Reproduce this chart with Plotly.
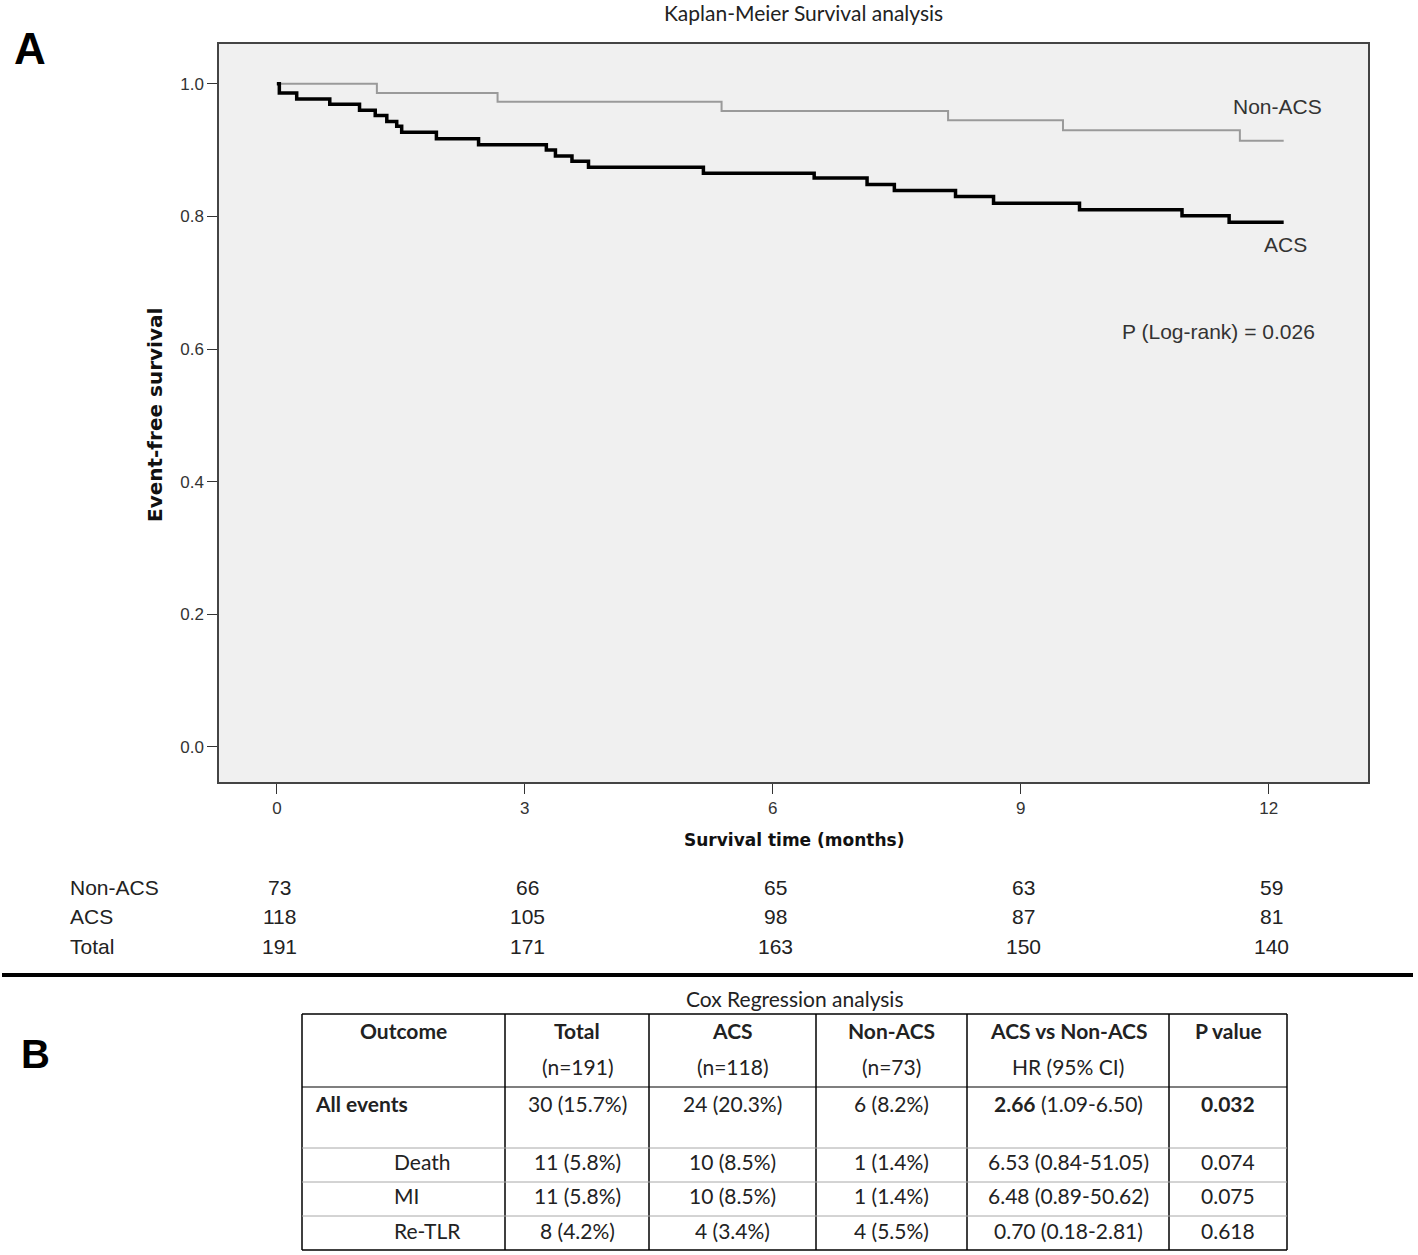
import plotly.graph_objects as go

W, H = 1418, 1255

# ---------------- Data ----------------
acs_time = [0, 0.03, 0.24, 0.64, 1.00, 1.19, 1.33, 1.45, 1.51, 1.93, 2.44, 3.26, 3.37, 3.57, 3.77,
            5.16, 6.50, 7.14, 7.47, 8.21, 8.67, 9.71, 10.95, 11.52, 12.18]
acs_surv = [1.0, 0.986, 0.977, 0.969, 0.960, 0.952, 0.943, 0.936, 0.927, 0.917, 0.908, 0.900, 0.891,
            0.883, 0.874, 0.865, 0.858, 0.848, 0.839, 0.830, 0.820, 0.810, 0.801, 0.791, 0.791]
nonacs_time = [0, 1.21, 2.67, 5.38, 8.12, 9.51, 11.65, 12.18]
nonacs_surv = [1.0, 0.986, 0.973, 0.959, 0.945, 0.930, 0.914, 0.914]

x_ticks = [0, 3, 6, 9, 12]
y_ticks = [0.0, 0.2, 0.4, 0.6, 0.8, 1.0]

risk_labels = ["Non-ACS", "ACS", "Total"]
risk_nonacs = [73, 66, 65, 63, 59]
risk_acs = [118, 105, 98, 87, 81]
risk_total = [191, 171, 163, 150, 140]

tbl_header1 = ["Outcome", "Total", "ACS", "Non-ACS", "ACS vs Non-ACS", "P value"]
tbl_header2 = ["", "(n=191)", "(n=118)", "(n=73)", "HR (95% CI)", ""]
tbl_outcomes = ["All events", "Death", "MI", "Re-TLR"]
tbl_total = ["30 (15.7%)", "11 (5.8%)", "11 (5.8%)", "8 (4.2%)"]
tbl_acs = ["24 (20.3%)", "10 (8.5%)", "10 (8.5%)", "4 (3.4%)"]
tbl_nonacs = ["6 (8.2%)", "1 (1.4%)", "1 (1.4%)", "4 (5.5%)"]
tbl_hr = ["2.66", "6.53", "6.48", "0.70"]
tbl_ci = ["(1.09-6.50)", "(0.84-51.05)", "(0.89-50.62)", "(0.18-2.81)"]
tbl_p = ["0.032", "0.074", "0.075", "0.618"]


def px(x):
    return x / W


def py(y):
    return 1 - y / H


ARIAL = "Liberation Sans, Arial, sans-serif"
VERD = "DejaVu Sans, Verdana, sans-serif"
CALI = "Lato, Open Sans, sans-serif"

fig = go.Figure()
fig.add_trace(go.Scatter(x=nonacs_time, y=nonacs_surv, mode="lines", line_shape="hv",
                         line=dict(color="#9a9a9a", width=2), showlegend=False, hoverinfo="skip"))
fig.add_trace(go.Scatter(x=acs_time, y=acs_surv, mode="lines", line_shape="hv",
                         line=dict(color="#000000", width=3.5), showlegend=False, hoverinfo="skip"))

ann = []
shapes = []


def add_text(x, y, text, font, xref="paper", yref="paper", xanchor="center", **kw):
    ann.append(dict(x=x, y=y, xref=xref, yref=yref, text=text, showarrow=False,
                    xanchor=xanchor, yanchor="middle", font=font, **kw))


# Title
add_text(px(803), py(12), "Kaplan-Meier Survival analysis", dict(family=CALI, size=21, color="#222"))
# Panel letters
add_text(px(30), py(48), "<b>A</b>", dict(family=ARIAL, size=44, color="#000"))
add_text(px(35), py(1054), "<b>B</b>", dict(family=ARIAL, size=40, color="#000"))
# Axis titles
add_text(px(155), py(415), "<b>Event-free survival</b>", dict(family=VERD, size=20, color="#111"),
         textangle=-90)
add_text(px(794), py(840), "<b>Survival time (months)</b>", dict(family=VERD, size=17, color="#111"))
# Curve labels
CF = dict(family=ARIAL, size=21, color="#333")
add_text(12.1, 0.965, "Non-ACS", CF, xref="x", yref="y")
add_text(12.2, 0.758, "ACS", CF, xref="x", yref="y")
add_text(11.39, 0.627, "P (Log-rank) = 0.026", CF, xref="x", yref="y")

# Risk table
risk_rows = [risk_nonacs, risk_acs, risk_total]
risk_y = [887, 917, 946]
RF = dict(family=ARIAL, size=21, color="#222")
for lab, row, yy in zip(risk_labels, risk_rows, risk_y):
    add_text(px(68), py(yy), lab, RF, xanchor="left")
    for t, v in zip(x_ticks, row):
        add_text(t, py(yy), str(v), RF, xref="x", xshift=3)

# Separator line
shapes.append(dict(type="line", xref="paper", yref="paper", x0=px(2), x1=px(1413), y0=py(975), y1=py(975),
                   line=dict(color="#000", width=4)))

# Cox table
add_text(px(795), py(998), "Cox Regression analysis", dict(family=CALI, size=21, color="#222"))
col_x = [302, 505, 649, 816, 967, 1169, 1287]
row_y = [1014, 1087, 1148, 1182, 1216, 1250]
for cx in col_x:
    shapes.append(dict(type="line", xref="paper", yref="paper", x0=px(cx), x1=px(cx),
                       y0=py(row_y[0]), y1=py(row_y[-1]), line=dict(color="#000", width=1.5)))
for ry, col, w in [(row_y[0], "#000", 1.5), (row_y[-1], "#000", 1.5), (row_y[1], "#000", 1.2)]:
    shapes.append(dict(type="line", xref="paper", yref="paper", x0=px(col_x[0]), x1=px(col_x[-1]),
                       y0=py(ry), y1=py(ry), line=dict(color=col, width=w)))
for ry in row_y[2:-1]:
    shapes.append(dict(type="line", xref="paper", yref="paper", x0=px(col_x[0]), x1=px(col_x[-1]),
                       y0=py(ry), y1=py(ry), line=dict(color="#a8a8a8", width=1)))

centers = [(col_x[i] + col_x[i + 1]) / 2 for i in range(len(col_x) - 1)]
TF = dict(family=CALI, size=21, color="#222")
for i, (h1, h2) in enumerate(zip(tbl_header1, tbl_header2)):
    add_text(px(centers[i]), py(1030), f"<b>{h1}</b>", TF)
    if h2:
        add_text(px(centers[i]), py(1066), h2, TF)

body_y = [1103, 1161, 1195, 1230]
for r in range(len(tbl_outcomes)):
    yy = body_y[r]
    bold = r == 0
    if bold:
        add_text(px(313), py(yy), f"<b>{tbl_outcomes[r]}</b>", TF, xanchor="left")
    else:
        add_text(px(392), py(yy), tbl_outcomes[r], TF, xanchor="left")
    hr = f"<b>{tbl_hr[r]}</b>" if bold else tbl_hr[r]
    pv = f"<b>{tbl_p[r]}</b>" if bold else tbl_p[r]
    vals = [tbl_total[r], tbl_acs[r], tbl_nonacs[r], f"{hr} {tbl_ci[r]}", pv]
    for c, v in enumerate(vals):
        add_text(px(centers[c + 1]), py(yy), v, TF)

fig.update_layout(
    width=W, height=H, margin=dict(l=0, r=0, t=0, b=0),
    paper_bgcolor="white", plot_bgcolor="#f0f0f0",
    xaxis=dict(domain=[px(219), px(1368)], range=[-0.70, 13.2], tickvals=x_ticks,
               ticktext=[str(t) for t in x_ticks], ticks="outside", ticklen=10, tickcolor="#333",
               showgrid=False, zeroline=False, showline=True, mirror=True, linecolor="#444", linewidth=1.5,
               tickfont=dict(family=ARIAL, size=17, color="#333")),
    yaxis=dict(domain=[py(782), py(44)], range=[-0.053, 1.060], tickvals=y_ticks, tickformat=".1f",
               ticks="outside", ticklen=10, tickcolor="#333",
               showgrid=False, zeroline=False, showline=True, mirror=True, linecolor="#444", linewidth=1.5,
               tickfont=dict(family=ARIAL, size=17, color="#333")),
    annotations=ann, shapes=shapes,
)

fig.write_html("out.html", config={"displayModeBar": False},
               post_script="document.body.style.margin='0';document.body.style.overflow='hidden';")
